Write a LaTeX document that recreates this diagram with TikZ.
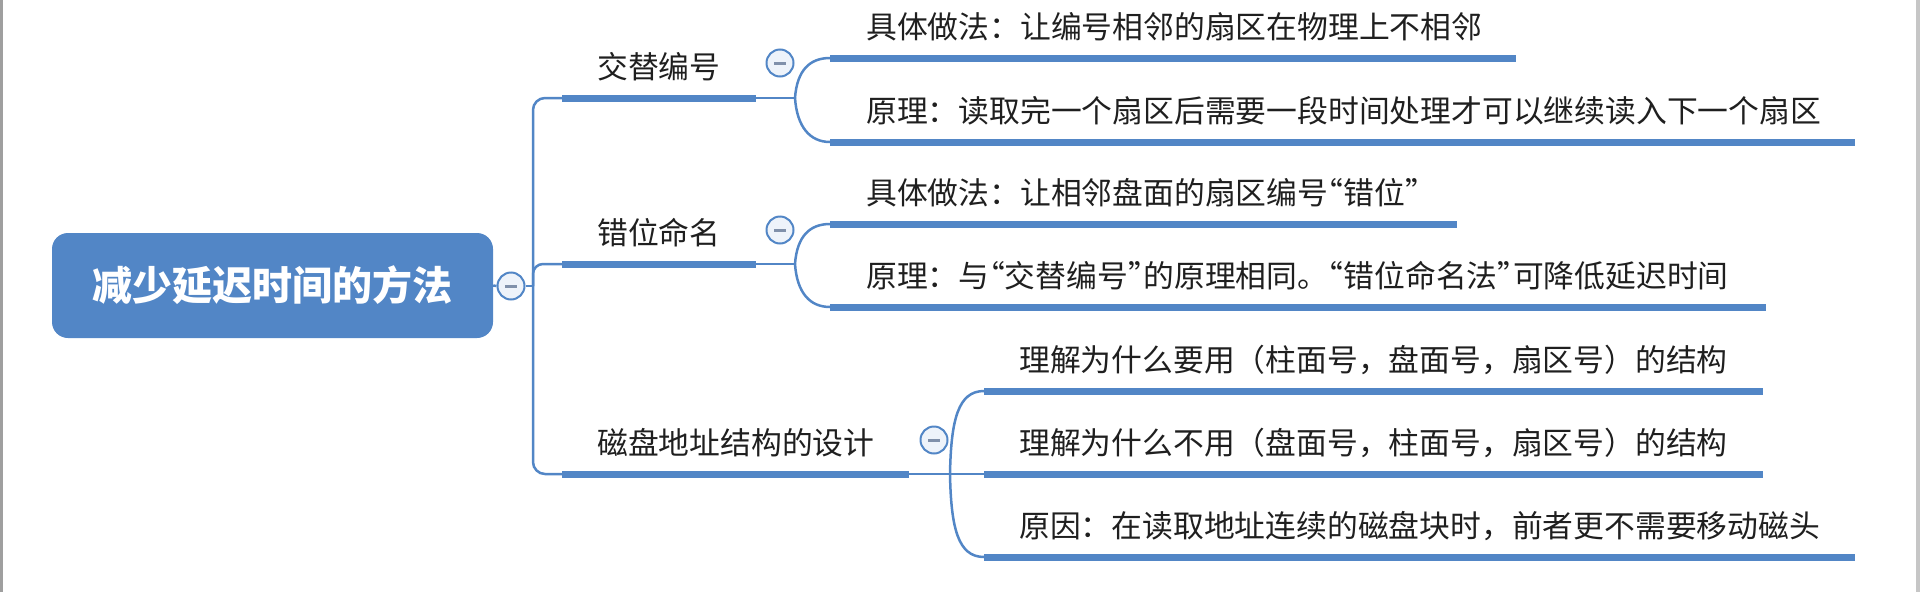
\documentclass[tikz,border=0pt]{standalone}
\usepackage{fontspec}
\newfontfamily\cjk{Noto Sans CJK SC}
\newfontfamily\cjkhalf{Noto Sans CJK SC}[RawFeature=+halt]
\newcommand\inquotes[1]{{\cjkhalf“}#1{\cjkhalf”}}
\usepackage{tikz}

\definecolor{mapblue}{RGB}{82,134,198}
\definecolor{foldfill}{RGB}{238,243,250}
\definecolor{foldminus}{RGB}{128,144,170}

\tikzset{
    root/.style={fill=mapblue, rounded corners=16pt, minimum width=441pt, minimum height=105pt, inner sep=0pt, text=white, font=\cjk\bfseries\fontsize{40}{48}\selectfont},
    topic/.style={anchor=west, inner sep=0pt, text=black!88, font=\cjk\fontsize{30.8}{36}\selectfont},
    bar/.style={mapblue, line width=7pt},
    link/.style={mapblue, line width=2.5pt},
    fold/.style={circle, draw=mapblue, line width=2pt, fill=foldfill, minimum size=27pt, inner sep=0pt,
        path picture={\draw[foldminus, line width=3pt] ([xshift=-6pt]path picture bounding box.center) -- ([xshift=6pt]path picture bounding box.center);}}
}

\begin{document}
\begin{tikzpicture}[x=1pt, y=-1pt]
        \useasboundingbox (0,0) rectangle (1920,592);
        \fill[gray!75] (0,0) rectangle (3,592);
        \fill[gray!45] (1916,0) rectangle (1920,592);
        \coordinate(hub) at (533,286);
        \coordinate(jtA) at (562,98);
        \coordinate(jtB) at (756,98);
        \coordinate(jtK) at (795,98);
        \coordinate(j1A) at (830,58);
        \coordinate(j1B) at (1516,58);
        \coordinate(j2A) at (830,142);
        \coordinate(j2B) at (1855,142);
        \coordinate(cwA) at (562,264);
        \coordinate(cwB) at (756,264);
        \coordinate(cwK) at (795,264);
        \coordinate(c1A) at (830,224);
        \coordinate(c1B) at (1457,224);
        \coordinate(c2A) at (830,307);
        \coordinate(c2B) at (1766,307);
        \coordinate(cpA) at (562,474);
        \coordinate(cpB) at (909,474);
        \coordinate(cpK) at (950,474);
        \coordinate(p1A) at (984,391);
        \coordinate(p1B) at (1763,391);
        \coordinate(p2A) at (984,474);
        \coordinate(p2B) at (1763,474);
        \coordinate(p3A) at (984,557);
        \coordinate(p3B) at (1855,557);
        \node[root] (root) at (272.5,285.5) {减少延迟时间的方法};
        \node[fold] (f0) at (511,286) {};
        \node[topic] (jt) at (597,67) {交替编号};
        \node[topic] (j1) at (866,27) {具体做法：让编号相邻的扇区在物理上不相邻};
        \node[topic] (j2) at (866,111) {原理：读取完一个扇区后需要一段时间处理才可以继续读入下一个扇区};
        \node[topic] (cw) at (597,233) {错位命名};
        \node[topic] (c1) at (866,193) {具体做法：让相邻盘面的扇区编号\inquotes{错位}};
        \node[topic] (c2) at (866,276) {原理：与\inquotes{交替编号}的原理相同。\inquotes{错位命名法}可降低延迟时间};
        \node[topic] (cp) at (597,443) {磁盘地址结构的设计};
        \node[topic] (p1) at (1019,360) {理解为什么要用（柱面号，盘面号，扇区号）的结构};
        \node[topic] (p2) at (1019,443) {理解为什么不用（盘面号，柱面号，扇区号）的结构};
        \node[topic] (p3) at (1019,526) {原因：在读取地址连续的磁盘块时，前者更不需要移动磁头};
        \draw[link] (root.east)--(f0.west);
        \draw[link] (f0.east)--(hub);
        \draw[link, rounded corners=12pt] (hub) |- (jtA);
        \draw[link, rounded corners=10pt] (hub) |- (cwA);
        \draw[link, rounded corners=12pt] (hub) |- (cpA);
        \draw[link] (jtB)--(jtK);
        \draw[link] (jtK) .. controls (797,70) and (810,58) .. (j1A);
        \draw[link] (jtK) .. controls (797,127) and (810,142) .. (j2A);
        \draw[link] (cwB)--(cwK);
        \draw[link] (cwK) .. controls (797,236) and (810,224) .. (c1A);
        \draw[link] (cwK) .. controls (797,293) and (810,307) .. (c2A);
        \draw[link] (cpB)--(p2A);
        \draw[link] (cpK) .. controls (951,420) and (958,391) .. (p1A);
        \draw[link] (cpK) .. controls (951,528) and (958,557) .. (p3A);
        \foreach \n in {jt,j1,j2,cw,c1,c2,cp,p1,p2,p3}
            \draw[bar] (\n A)--(\n B);
        \node[fold] (f1) at (780,63) {};
        \node[fold] (f2) at (780,230) {};
        \node[fold] (f3) at (934,440) {};
    \end{tikzpicture}
\end{document}
